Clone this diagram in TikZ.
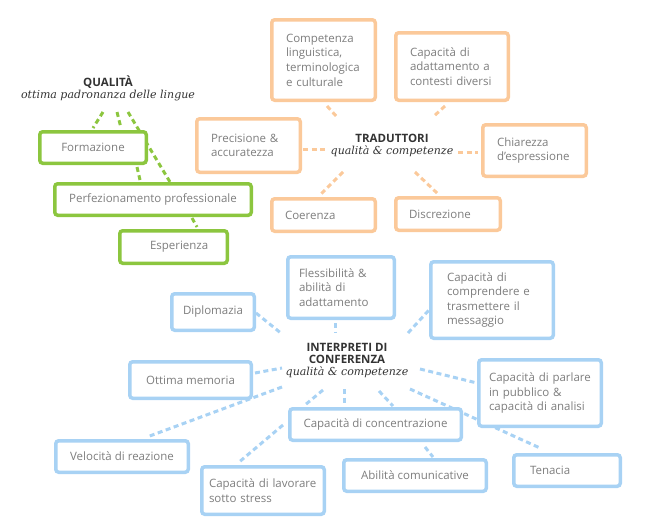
\documentclass[tikz,border=0pt]{standalone}
\usepackage{fontspec}
\setmainfont{Open Sans}
\newfontfamily\serifit{DejaVu Serif}
\usetikzlibrary{calc,backgrounds}
\definecolor{gr}{HTML}{8CC63F}
\definecolor{orng}{HTML}{FBC99A}
\definecolor{blu}{HTML}{A8D2F4}
\definecolor{txt}{HTML}{7E7E7E}
\definecolor{hd}{HTML}{333333}
\tikzset{
  boxbase/.style={line width=3.5pt, rounded corners=3pt, fill=white, inner sep=0pt,
    text=txt, font=\fontsize{11.5}{14.6}\selectfont},
  gbox/.style={boxbase, draw=gr},
  obox/.style={boxbase, draw=orng},
  bbox/.style={boxbase, draw=blu},
  sz/.style n args={2}{minimum width=#1-3.5pt, minimum height=#2-3.5pt},
  lft/.style={align=left, text width=#1},
  hub/.style={align=center, inner sep=0pt},
  spoke/.style={line width=3pt, dash pattern=on 5pt off 3.5pt},
  gl/.style={spoke, draw=gr},
  ol/.style={spoke, draw=orng},
  bl/.style={spoke, draw=blu},
}
\newcommand{\hb}[1]{{\fontsize{11.5}{14}\selectfont\bfseries\color{hd}#1}}
\newcommand{\hi}[1]{{\serifit\itshape\fontsize{11}{16}\selectfont\color{hd}#1}}
\begin{document}
\begin{tikzpicture}[x=1pt,y=-1pt]
\useasboundingbox (0,0) rectangle (646,530);
% hubs
\node[hub] (qual) at (108,88) {\hb{QUALITÀ}\\\hi{ottima padronanza delle lingue}};
\node[hub] (trad) at (392,145) {\hb{TRADUTTORI}\\\hi{qualità \& competenze}};
\node[hub] (interp) at (347,361) {\hb{INTERPRETI DI}\\\hb{CONFERENZA}\\\hi{qualità \& competenze}};
% green
\node[gbox, sz={110pt}{35pt}] (form) at (93,147.5) {Formazione};
\node[gbox, sz={200pt}{35pt}] (perf) at (153,199.5) {Perfezionamento professionale};
\node[gbox, sz={111pt}{36pt}, lft=47pt] (esp) at (173.5,247) {Esperienza};
% orange
\node[obox, sz={107pt}{84pt}, lft=75pt] (comp) at (323.5,60) {Competenza\\linguistica,\\terminologica\\e culturale};
\node[obox, sz={116pt}{71pt}, lft=84pt] (adatt) at (452,66.5) {Capacità di\\adattamento a\\contesti diversi};
\node[obox, sz={107pt}{57pt}, lft=75pt] (prec) at (248.5,145.5) {Precisione \&\\accuratezza};
\node[obox, sz={107pt}{55pt}, lft=75pt] (chiar) at (534.5,150.5) {Chiarezza\\d’espressione};
\node[obox, sz={107pt}{36pt}, lft=77pt] (coer) at (323.5,215) {Coerenza};
\node[obox, sz={108pt}{36pt}, lft=78pt] (disc) at (448,214) {Discrezione};
% blue
\node[bbox, sz={86pt}{40pt}] (dipl) at (213,312) {Diplomazia};
\node[bbox, sz={110pt}{65pt}, lft=84pt] (fless) at (341,287.5) {Flessibilità \&\\abilità di\\adattamento};
\node[bbox, sz={126pt}{80pt}, lft=90pt] (compr) at (492,300) {Capacità di\\comprendere e\\trasmettere il\\messaggio};
\node[bbox, sz={126pt}{70pt}, lft=102pt] (parl) at (540,393) {Capacità di parlare\\in pubblico \&\\capacità di analisi};
\node[bbox, sz={125pt}{40pt}] (mem) at (190.5,380) {Ottima memoria};
\node[bbox, sz={136pt}{35pt}] (vel) at (122,456.5) {Velocità di reazione};
\node[bbox, sz={175pt}{35pt}] (conc) at (375.5,424.5) {Capacità di concentrazione};
\node[bbox, sz={126pt}{51pt}, lft=108pt] (lav) at (263,490.5) {Capacità di lavorare\\sotto stress};
\node[bbox, sz={146pt}{35pt}] (abil) at (415,475.5) {Abilità comunicative};
\node[bbox, sz={110pt}{35pt}, lft=74pt] (ten) at (567,470.5) {Tenacia};
% connectors
\begin{pgfonlayer}{background}
\draw[gl] ($(qual)+(-5,24)$) -- ($(form)+(0,-19.5)$);
\draw[gl] ($(qual)+(9,24)$) -- ($(form)+(28,-19.5)$);
\draw[gl] ($(qual)+(20,24)$) -- ($(perf)+(17,-17.5)$);
\draw[gl] ($(form)+(44,19.5)$) -- ($(perf)+(-13,-19.5)$);
\draw[gl] ($(perf)+(39,18.5)$) -- ($(esp)+(23.5,-20)$);
\draw[ol] ($(comp)+(3.5,46)$) -- ($(trad)+(-55,-28)$);
\draw[ol] ($(adatt)+(-7,39.5)$) -- ($(trad)+(41,-28)$);
\draw[ol] ($(prec)+(54.5,3.5)$) -- ($(trad)+(-67,4)$);
\draw[ol] ($(trad)+(66,7)$) -- ($(chiar)+(-56.5,1.5)$);
\draw[ol] ($(trad)+(-49,27)$) -- ($(coer)+(-3.5,-20)$);
\draw[ol] ($(trad)+(23,27)$) -- ($(disc)+(-10,-20)$);
\draw[bl] ($(dipl)+(43,1)$) -- ($(interp)+(-65,-27)$);
\draw[bl] ($(fless)+(-6,35.5)$) -- ($(interp)+(-12,-28)$);
\draw[bl] ($(interp)+(61,-28)$) -- ($(compr)+(-63,10)$);
\draw[bl] ($(mem)+(64.5,-7)$) -- ($(interp)+(-65,7)$);
\draw[bl] ($(interp)+(-65,26)$) -- ($(vel)+(25,-19.5)$);
\draw[bl] ($(interp)+(73,8)$) -- ($(parl)+(-63,-10)$);
\draw[bl] ($(interp)+(63,28)$) -- ($(ten)+(-27,-22.5)$);
\draw[bl] ($(interp)+(-24,29)$) -- ($(conc)+(-70.5,-19.5)$);
\draw[bl] ($(interp)+(-3,28)$) -- ($(conc)+(-31.5,-21.5)$);
\draw[bl] ($(interp)+(32,30)$) -- ($(conc)+(17.5,-18.5)$);
\draw[bl] ($(conc)+(-92.5,0.5)$) -- ($(lav)+(-25,-27.5)$);
\draw[bl] ($(conc)+(49.5,22.5)$) -- ($(abil)+(18,-18.5)$);
\end{pgfonlayer}
\end{tikzpicture}
\end{document}
